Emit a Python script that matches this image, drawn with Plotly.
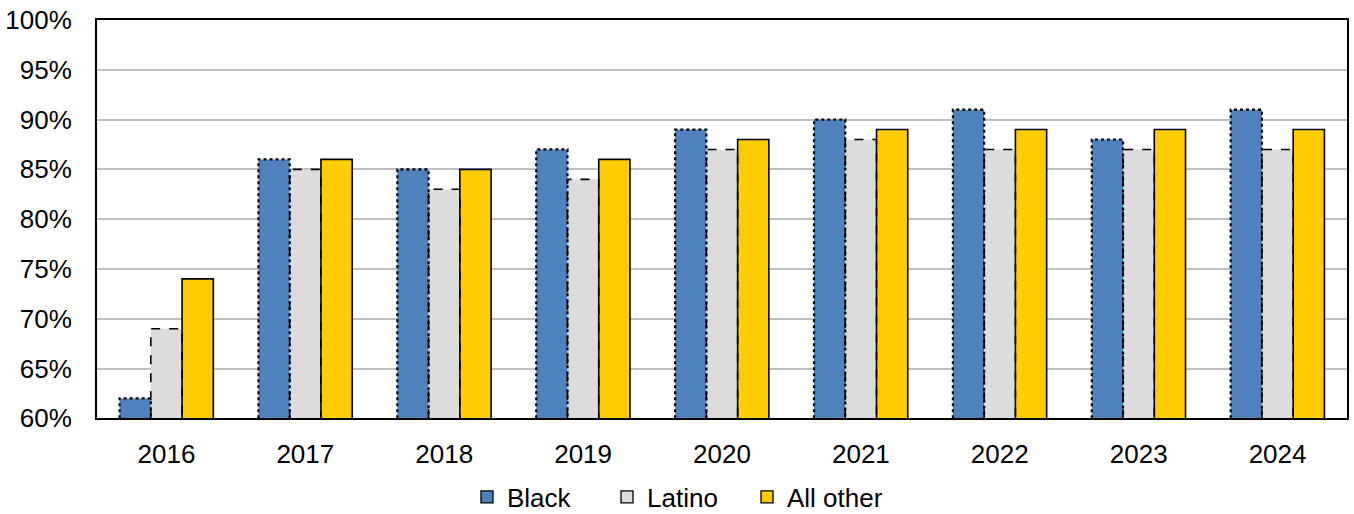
import plotly.graph_objects as go

years = ["2016", "2017", "2018", "2019", "2020", "2021", "2022", "2023", "2024"]
black = [62, 86, 85, 87, 89, 90, 91, 88, 91]
latino = [69, 85, 83, 84, 87, 88, 87, 87, 87]
all_other = [74, 86, 85, 86, 88, 89, 89, 89, 89]

series = [
    ("Black", black, "#4F81BD", "dot", 2.2),
    ("Latino", latino, "#DCDCDC", "dash", 1.6),
    ("All other", all_other, "#FFCC00", "solid", 1.6),
]

BAR_W = 0.225
Y_MIN, Y_MAX = 60, 100

fig = go.Figure()

for i, (name, vals, color, dash, lw) in enumerate(series):
    offset = (i - 1) * BAR_W
    xs = [k + offset for k in range(len(years))]
    fig.add_trace(go.Bar(
        x=xs, y=vals, name=name, width=BAR_W, showlegend=False,
        marker=dict(color=color, line=dict(width=0)),
        hoverinfo="skip",
    ))

# outlines drawn as line traces so each series can carry its own dash style
for i, (name, vals, color, dash, lw) in enumerate(series):
    offset = (i - 1) * BAR_W
    ox, oy = [], []
    for k, v in enumerate(vals):
        x0 = k + offset - BAR_W / 2
        x1 = k + offset + BAR_W / 2
        ox += [x0, x0, x1, x1, None]
        oy += [Y_MIN, v, v, Y_MIN, None]
    fig.add_trace(go.Scatter(
        x=ox, y=oy, mode="lines", showlegend=False, hoverinfo="skip",
        line=dict(color="#000000", width=lw, dash=dash),
    ))

# legend keys: outlined swatches for each series
for name, vals, color, dash, lw in series:
    fig.add_trace(go.Bar(
        x=[None], y=[None], name=name,
        marker=dict(color=color, line=dict(color="#000000", width=1.3)),
    ))

fig.update_layout(
    width=1354, height=514,
    margin=dict(l=97, r=5, t=15, b=93),
    plot_bgcolor="white", paper_bgcolor="white",
    font=dict(family="Liberation Sans, Arial, sans-serif", size=26, color="#000000"),
    barmode="overlay",
    showlegend=True,
    legend=dict(
        orientation="h", xref="container", yref="container",
        x=0.5, xanchor="center", y=0.033, yanchor="middle",
        font=dict(size=26), itemwidth=30,
        entrywidth=95, entrywidthmode="pixels",
    ),
    xaxis=dict(
        range=[-0.5, len(years) - 0.5],
        tickmode="array", tickvals=list(range(len(years))), ticktext=years,
        showgrid=False, zeroline=False,
        showline=True, linecolor="#000000", linewidth=2, mirror=True,
        ticks="", ticklabelstandoff=11,
    ),
    yaxis=dict(
        range=[Y_MIN, Y_MAX], dtick=5, ticksuffix="%",
        showgrid=True, gridcolor="#BFBFBF", gridwidth=2,
        zeroline=False,
        showline=True, linecolor="#000000", linewidth=2, mirror=True,
        ticks="", ticklabelstandoff=18,
    ),
)

fig.write_html("out.html")
